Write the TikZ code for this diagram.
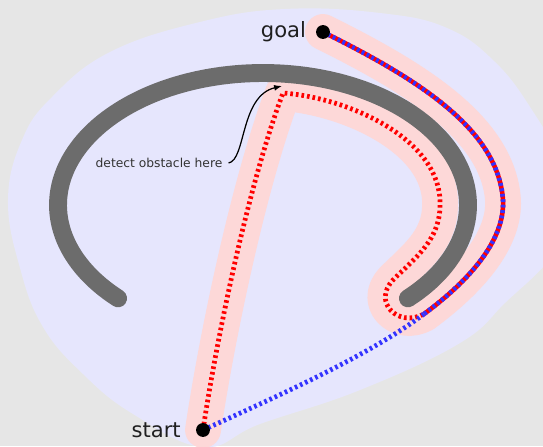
\documentclass[tikz,border=0pt]{standalone}
\usepackage{fontspec}
\setmainfont{DejaVu Sans}
\usetikzlibrary{arrows.meta,positioning}
\definecolor{bggray}{RGB}{230,230,230}
\definecolor{reachblue}{RGB}{230,230,253}
\definecolor{bandpink}{RGB}{253,216,216}
\definecolor{wallgray}{RGB}{108,108,108}
\definecolor{pathred}{RGB}{255,0,0}
\definecolor{pathblue}{RGB}{51,51,255}

\begin{document}
\begin{tikzpicture}[x=0.02cm, y=-0.02cm,
    every node/.style={font=\fontsize{12}{14}\selectfont, text=black!88},
    dot/.style={circle, fill=black, inner sep=0pt, minimum size=7.9pt},
    dots/.style={line width=2.7pt, dash pattern=on 1.5pt off 1.7pt},
  ]
  \clip (0,0) rectangle (543,446);
  \fill[bggray] (0,0) rectangle (543,446);
  \fill[reachblue] plot[smooth cycle, tension=0.7] coordinates {
    (203,447) (133,414) (83,374) (43,327) (20,268) (8,200) (22,140)
    (52,97) (110,52) (200,22) (285,9) (380,13) (447,28) (495,62)
    (532,110) (562,165) (570,212) (552,256) (506,302) (460,343)
    (360,390) (260,424)};

  \coordinate (s) at (203,430);
  \coordinate (g) at (323,32);
  \coordinate (c) at (283,93);
  \coordinate (j) at (424,314);
  \def\innerleg{(s) .. controls (218,330) and (250,180) .. (c)
    .. controls (350,98) and (442,140) .. (440,205)
    .. controls (440,240) and (415,258) .. (393,280)
    .. controls (372,302) and (398,328) .. (j)}
  \def\outerleg{(j) .. controls (470,280) and (505,240) .. (503,200)
    .. controls (498,130) and (420,80) .. (g)}

  % swept band round the path that was driven
  \draw[bandpink, line width=20.4pt, line cap=round, line join=round]
    \innerleg \outerleg;

  % obstacle
  \draw[wallgray, line width=10.2pt, line cap=round]
    plot[domain=225:-45, samples=80, smooth]
    ({263+205*cos(\x)}, {205-132*sin(\x)});

  \draw[pathred, dots] \innerleg;
  \draw[pathred, line width=2.6pt] \outerleg;
  \draw[pathblue, line width=2.6pt, dash pattern=on 1.6pt off 1.5pt]
    (g) .. controls (420,80) and (498,130) .. (503,200)
    .. controls (505,240) and (470,280) .. (j);
  \draw[pathblue, dots] (j) .. controls (370,355) and (280,395) .. (s);

  \node[dot] (start) at (s) {};
  \node[dot] (goal) at (g) {};
  \node[left=5pt of start] {start};
  \node[left=2pt of goal] {goal};

  \node[font=\fontsize{7}{8}\selectfont, text=black!80] (note) at (159,163)
    {detect obstacle here};
  \coordinate (hit) at (282,86);
  \draw[-{Latex[length=4.5pt]}, line width=0.7pt]
    (note.east) .. controls (246,160) and (240,96) .. (hit);
\end{tikzpicture}
\end{document}
